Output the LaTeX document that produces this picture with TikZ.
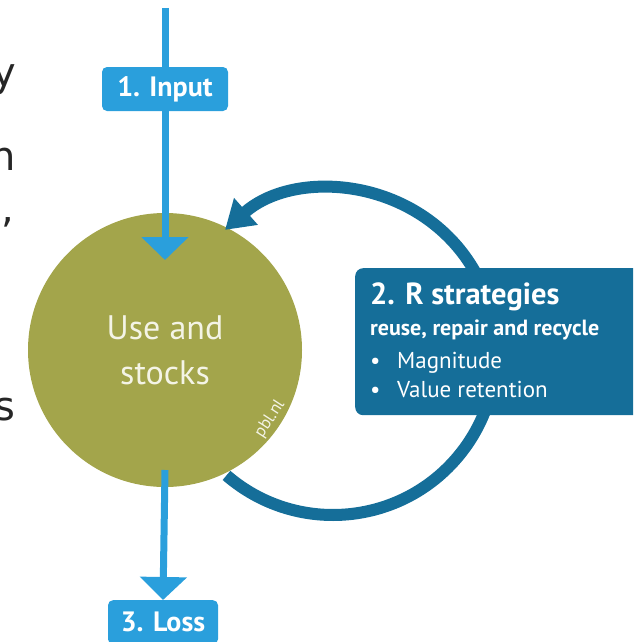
\documentclass[tikz,border=0pt]{standalone}
\usepackage{fontspec}
\setmainfont{PT Sans}
\newfontfamily\edgefont{DejaVu Sans}
\usetikzlibrary{arrows.meta,calc}
\definecolor{inflow}{HTML}{2A9FDC}
\definecolor{loopblue}{HTML}{156E99}
\definecolor{olive}{HTML}{A3A54B}
\definecolor{paletext}{HTML}{F4F4E6}

\begin{document}
\begin{tikzpicture}[x=1pt,y=-1pt,
  flowline/.style={draw=inflow, line width=7pt, -{Triangle[length=23pt,width=46pt]}},
  looparrow/.style={draw=loopblue, line width=12pt, -{Triangle[length=28pt,width=34pt]}},
  tag/.style={fill=inflow, text=white, rounded corners=5pt, inner sep=0pt,
    minimum height=44pt, font=\bfseries\fontsize{28}{32}\selectfont},
  boxtext/.style={anchor=base west, inner sep=0pt, text=white},
  edgeglyph/.style={anchor=base east, inner sep=0pt, text=black!85,
    font=\edgefont\fontsize{40}{48}\selectfont}
]
\useasboundingbox (0,0) rectangle (633,642);
\clip (0,0) rectangle (633,642);

% letters of the neighbouring text, cut by the left edge
\node[edgeglyph] (g1) at (16,86) {y};
\node[edgeglyph] (g2) at (16,170) {n};
\node[edgeglyph] (g3) at (14,222) {,};
\node[edgeglyph] (g4) at (16,420) {s};

% stock
\node[circle, fill=olive, minimum size=274pt, inner sep=0pt] (use) at (165,350) {};
\node[anchor=base, inner sep=0pt, text=paletext, font=\fontsize{34}{40}\selectfont] (use1) at (165,339) {Use and};
\node[anchor=base, inner sep=0pt, text=paletext, font=\fontsize{34}{40}\selectfont] (use2) at (165,384) {stocks};
\node[rotate=57, inner sep=0pt, text=paletext, font=\fontsize{17}{20}\selectfont] (pbl) at (270,419) {pbl.nl};

% feedback loop through the R strategies
\draw[looparrow] (333,352) ++(130.8:163) arc[start angle=130.8, end angle=-131.5, radius=163];
\node[fill=loopblue, rounded corners=8pt, minimum width=320pt, minimum height=147pt,
  inner sep=0pt, anchor=north west] (rbox) at (355,268) {};
\node[boxtext, font=\bfseries\fontsize{30.5}{36}\selectfont] (rtitle) at (370,304) {2. R strategies};
\node[boxtext, font=\bfseries\fontsize{22}{26}\selectfont] (rsub) at (370,335) {reuse, repair and recycle};
\node[boxtext, font=\fontsize{23}{27}\selectfont] (b1) at (370,368) {•};
\node[boxtext, font=\fontsize{23}{27}\selectfont] (m1) at (397,368) {Magnitude};
\node[boxtext, font=\fontsize{23}{27}\selectfont] (b2) at (370,397) {•};
\node[boxtext, font=\fontsize{23}{27}\selectfont] (m2) at (397,397) {Value retention};

% input and loss flows
\coordinate (src) at (165,8);
\coordinate (intip) at (165,260);
\coordinate (outstart) at (165,470);
\node[tag, minimum width=110pt, anchor=north] (loss) at (163,600) {3. Loss};
\draw[flowline] (src) -- (intip);
\draw[flowline] (outstart) -- (loss.north);
\node[tag, minimum width=126pt] (input) at (165,89) {1. Input};
\end{tikzpicture}
\end{document}
